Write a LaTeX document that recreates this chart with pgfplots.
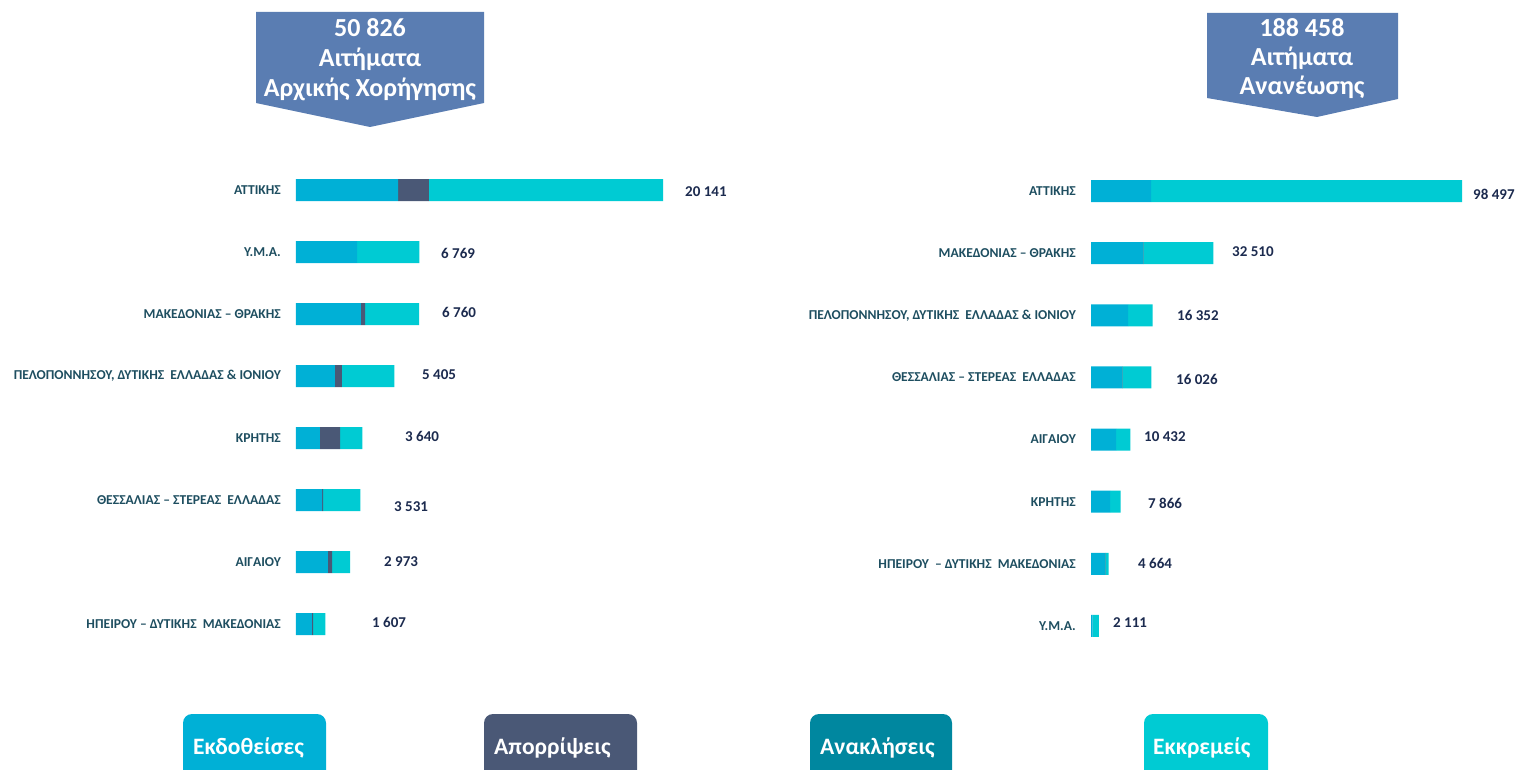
\documentclass[border=0pt]{standalone}
\usepackage{fontspec}
\setmainfont{Carlito}
\usepackage{pgfplots}
\usepackage{pgfplotstable}
\pgfplotsset{compat=1.18}

\definecolor{ekd}{HTML}{00B0D6}
\definecolor{apor}{HTML}{4A5876}
\definecolor{anak}{HTML}{00879F}
\definecolor{ekkr}{HTML}{00CBD3}
\definecolor{hdr}{HTML}{5A7DB2}
\definecolor{valcol}{HTML}{1C2B4F}
\definecolor{catcol}{HTML}{1E4E60}

% initial grants, rows from top
\pgfplotstableread{
row ekd apor anak ekkr
1 5598 1701 0 12842
2 3348 0 0 3421
3 3567 220 0 2973
4 2140 384 0 2881
5 1317 1098 0 1225
6 1427 55 0 2049
7 1756 220 0 997
8 878 55 0 674
}\initial

% renewals, rows from top
\pgfplotstableread{
row ekd apor anak ekkr
1 15930 0 0 82567
2 13806 0 150 18554
3 9824 0 0 6528
4 8230 0 150 7646
5 6638 0 0 3794
6 5045 0 0 2821
7 3717 0 150 797
8 400 0 0 1711
}\renewal

\tikzset{val/.style={anchor=west, inner sep=0pt, text=valcol,
    font=\fontsize{15}{16}\selectfont\bfseries}}

\begin{document}
\begin{tikzpicture}
\useasboundingbox (0pt,0pt) rectangle (1515pt,769pt);
\pgfplotsset{
  panel/.style={
    scale only axis, clip=false,
    xbar stacked, bar width=22pt,
    y dir=reverse, ymin=0.5, ymax=8.5, xmin=0,
    axis line style={draw=none}, major tick length=0pt,
    xtick=\empty, ytick={1,...,8},
    yticklabel style={font=\fontsize{13.6}{15}\selectfont\bfseries, text=catcol,
      inner sep=0pt, xshift=-15pt, anchor=east},
  },
}

\begin{axis}[panel, at={(296pt,114pt)}, anchor=south west,
  width=367pt, height=496pt, xmax=20141,
  yticklabels={ΑΤΤΙΚΗΣ, Υ.Μ.Α., ΜΑΚΕΔΟΝΙΑΣ – ΘΡΑΚΗΣ,
    {ΠΕΛΟΠΟΝΝΗΣΟΥ, ΔΥΤΙΚΗΣ\ \ ΕΛΛΑΔΑΣ \& ΙΟΝΙΟΥ}, ΚΡΗΤΗΣ,
    ΘΕΣΣΑΛΙΑΣ\ – ΣΤΕΡΕΑΣ\ \ ΕΛΛΑΔΑΣ, ΑΙΓΑΙΟΥ,
    ΗΠΕΙΡΟΥ\ – ΔΥΤΙΚΗΣ\ \ ΜΑΚΕΔΟΝΙΑΣ}]
\addplot[fill=ekd, draw=none] table[x=ekd, y=row] {\initial};
\addplot[fill=apor, draw=none] table[x=apor, y=row] {\initial};
\addplot[fill=anak, draw=none] table[x=anak, y=row] {\initial};
\addplot[fill=ekkr, draw=none] table[x=ekkr, y=row] {\initial};
\node[val] at (axis cs:21348,1.03) {20 141};
\node[val] at (axis cs:7958,2.02) {6 769};
\node[val] at (axis cs:8012,2.98) {6 760};
\node[val] at (axis cs:6915,3.97) {5 405};
\node[val] at (axis cs:5982,4.97) {3 640};
\node[val] at (axis cs:5378,6.10) {3 531};
\node[val] at (axis cs:4829,7.00) {2 973};
\node[val] at (axis cs:4171,7.97) {1 607};
\end{axis}

\begin{axis}[panel, at={(1091pt,112pt)}, anchor=south west,
  width=371pt, height=497pt, xmax=98497,
  yticklabels={ΑΤΤΙΚΗΣ, ΜΑΚΕΔΟΝΙΑΣ – ΘΡΑΚΗΣ,
    {ΠΕΛΟΠΟΝΝΗΣΟΥ, ΔΥΤΙΚΗΣ\ \ ΕΛΛΑΔΑΣ \& ΙΟΝΙΟΥ},
    ΘΕΣΣΑΛΙΑΣ\ – ΣΤΕΡΕΑΣ\ \ ΕΛΛΑΔΑΣ, ΑΙΓΑΙΟΥ, ΚΡΗΤΗΣ,
    ΗΠΕΙΡΟΥ\ \ – ΔΥΤΙΚΗΣ\ \ ΜΑΚΕΔΟΝΙΑΣ, Υ.Μ.Α.}]
\addplot[fill=ekd, draw=none] table[x=ekd, y=row] {\renewal};
\addplot[fill=apor, draw=none] table[x=apor, y=row] {\renewal};
\addplot[fill=anak, draw=none] table[x=anak, y=row] {\renewal};
\addplot[fill=ekkr, draw=none] table[x=ekkr, y=row] {\renewal};
\node[val] at (axis cs:101421,1.05) {98 497};
\node[val] at (axis cs:37436,1.97) {32 510};
\node[val] at (axis cs:22833,3.00) {16 352};
\node[val] at (axis cs:22568,4.04) {16 026};
\node[val] at (axis cs:14072,4.96) {10 432};
\node[val] at (axis cs:15134,6.02) {7 866};
\node[val] at (axis cs:12479,7.00) {4 664};
\node[val] at (axis cs:5841,7.94) {2 111};
\end{axis}

% header callouts
\fill[hdr] (256pt,757pt) -- (484pt,757pt) -- (484pt,666pt) -- (370pt,642pt)
  -- (256pt,666pt) -- cycle;
\fill[hdr] (1207pt,756pt) -- (1398pt,756pt) -- (1398pt,670pt) -- (1317pt,652pt)
  -- (1207pt,671pt) -- cycle;
\node[align=center, text=white, inner sep=0pt,
  font=\fontsize{26}{30}\selectfont\bfseries] at (370pt,709pt)
  {50 826\\Αιτήματα\\Αρχικής Χορήγησης};
\node[align=center, text=white, inner sep=0pt,
  font=\fontsize{26}{29}\selectfont\bfseries] at (1302pt,710pt)
  {188 458\\Αιτήματα\\Ανανέωσης};

% legend boxes
\begin{scope}
\clip (0pt,0pt) rectangle (1515pt,769pt);
\fill[ekd, rounded corners=9pt] (183pt,-20pt) rectangle (326pt,55pt);
\fill[apor, rounded corners=9pt] (484pt,-20pt) rectangle (637pt,55pt);
\fill[anak, rounded corners=9pt] (810pt,-20pt) rectangle (952pt,55pt);
\fill[ekkr, rounded corners=9pt] (1144pt,-20pt) rectangle (1268pt,55pt);
\end{scope}
\begin{scope}[every node/.style={anchor=west, inner sep=0pt, text=white,
  font=\fontsize{23.5}{26}\selectfont\bfseries}]
\node at (193pt,21pt) {Εκδοθείσες};
\node at (494pt,21pt) {Απορρίψεις};
\node at (820pt,21pt) {Ανακλήσεις};
\node at (1153pt,21pt) {Εκκρεμείς};
\end{scope}
\end{tikzpicture}
\end{document}
